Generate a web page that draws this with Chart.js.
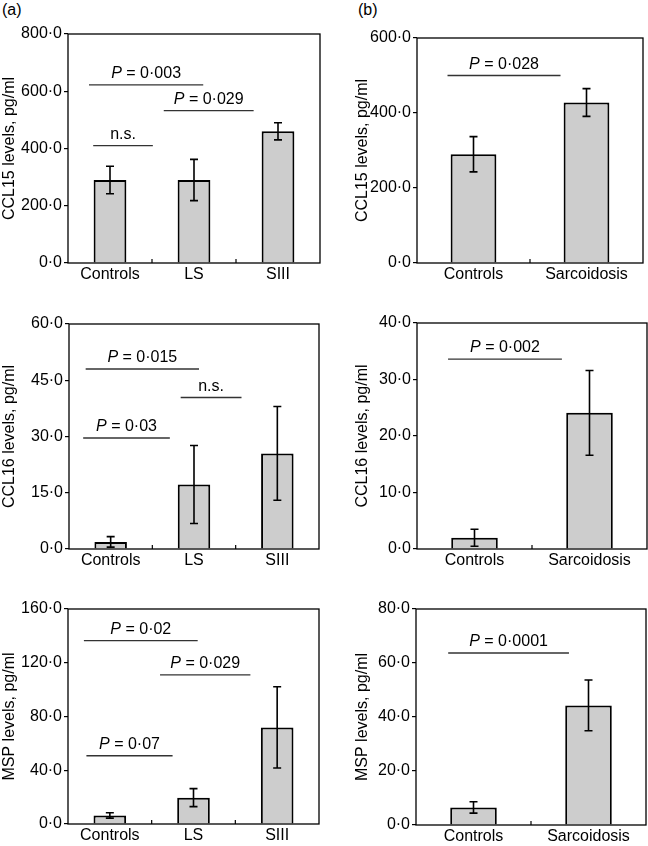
<!DOCTYPE html>
<html>
<head>
<meta charset="utf-8">
<script src="https://cdn.jsdelivr.net/npm/chart.js@4/dist/chart.umd.min.js"></script>
<style>
  body { margin: 0; background: #fff; width: 648px; height: 846px; position: relative; overflow: hidden; font-family: "Liberation Sans", Arial, sans-serif; }
  .panel { position: absolute; }
  .tag { position: absolute; font-size: 16px; color: #000; }
</style>
</head>
<body>
<div class="tag" style="left:2px;top:1px">(a)</div>
<div class="tag" style="left:358px;top:1px">(b)</div>
<div class="panel" id="wa1"><canvas id="a1"></canvas></div>
<div class="panel" id="wa2"><canvas id="a2"></canvas></div>
<div class="panel" id="wa3"><canvas id="a3"></canvas></div>
<div class="panel" id="wb1"><canvas id="b1"></canvas></div>
<div class="panel" id="wb2"><canvas id="b2"></canvas></div>
<div class="panel" id="wb3"><canvas id="b3"></canvas></div>
<script>
// groups
var groupsA = ['Controls', 'LS', 'SIII'];
var groupsB = ['Controls', 'Sarcoidosis'];

// means and error (half-length)
var ccl15A = [290, 290, 460];
var ccl15AErr = [48, 72, 30];
var ccl16A = [1.9, 17.2, 25.5];
var ccl16AErr = [1.4, 10.4, 12.5];
var mspA = [6.4, 19.6, 71.9];
var mspAErr = [2.0, 6.7, 30.2];

var ccl15B = [290, 428];
var ccl15BErr = [47, 37];
var ccl16B = [2.0, 24.1];
var ccl16BErr = [1.5, 7.5];
var mspB = [6.5, 44.3];
var mspBErr = [2.1, 9.4];

// y tick labels
var ticksCcl15A = ['0·0', '200·0', '400·0', '600·0', '800·0'];
var ticksCcl16A = ['0·0', '15·0', '30·0', '45·0', '60·0'];
var ticksMspA = ['0·0', '40·0', '80·0', '120·0', '160·0'];
var ticksCcl15B = ['0·0', '200·0', '400·0', '600·0'];
var ticksCcl16B = ['0·0', '10·0', '20·0', '30·0', '40·0'];
var ticksMspB = ['0·0', '20·0', '40·0', '60·0', '80·0'];

// significance bars: [from group, to group, y value, text]
var sigCcl15A = [[-0.25, 1.11, 622, 'P = 0·003'], [0.64, 1.71, 532, 'P = 0·029'], [-0.2, 0.51, 410, 'n.s.']];
var sigCcl16A = [[-0.3, 1.06, 48.0, 'P = 0·015'], [0.84, 1.57, 40.4, 'n.s.'], [-0.33, 0.71, 29.6, 'P = 0·03']];
var sigMspA = [[-0.31, 1.05, 136.5, 'P = 0·02'], [0.6, 1.68, 111, 'P = 0·029'], [-0.28, 0.75, 50.8, 'P = 0·07']];
var sigCcl15B = [[-0.23, 0.77, 500, 'P = 0·028']];
var sigCcl16B = [[-0.23, 0.76, 33.6, 'P = 0·002']];
var sigMspB = [[-0.22, 0.83, 63.7, 'P = 0·0001']];

var FONT = '"Liberation Sans", Arial, sans-serif';
Chart.defaults.font.family = FONT;
Chart.defaults.font.size = 16;
Chart.defaults.color = '#000';

var extras = {
    id: 'extras',
    afterDatasetsDraw: function(chart, args, opts) {
        var ctx = chart.ctx;
        var x = chart.scales.x, y = chart.scales.y;
        var a = chart.chartArea;
        var vals = chart.data.datasets[0].data;
        ctx.save();
        // error bars
        ctx.strokeStyle = '#000';
        ctx.lineWidth = 1.6;
        for (var i = 0; i < vals.length; i++) {
            var cx = x.getPixelForValue(i);
            var hi = y.getPixelForValue(vals[i] + opts.err[i]);
            var lo = y.getPixelForValue(vals[i] - opts.err[i]);
            ctx.beginPath();
            ctx.moveTo(cx, hi); ctx.lineTo(cx, lo);
            ctx.moveTo(cx - 4, hi); ctx.lineTo(cx + 4, hi);
            ctx.moveTo(cx - 4, lo); ctx.lineTo(cx + 4, lo);
            ctx.stroke();
        }
        // significance lines
        ctx.strokeStyle = '#333';
        ctx.lineWidth = 1.3;
        ctx.fillStyle = '#000';
        ctx.textBaseline = 'alphabetic';
        opts.sig.forEach(function(s) {
            var x0 = x.getPixelForValue(s[0]), x1 = x.getPixelForValue(s[1]);
            var yy = y.getPixelForValue(s[2]);
            ctx.beginPath();
            ctx.moveTo(x0, yy); ctx.lineTo(x1, yy);
            ctx.stroke();
            var mid = (x0 + x1) / 2;
            var txt = s[3];
            if (txt.charAt(0) === 'P') {
                ctx.font = 'italic 16px ' + FONT;
                var wp = ctx.measureText('P').width;
                ctx.font = '16px ' + FONT;
                var rest = txt.slice(1);
                var wr = ctx.measureText(rest).width;
                var sx = mid - (wp + wr) / 2;
                ctx.textAlign = 'left';
                ctx.font = 'italic 16px ' + FONT;
                ctx.fillText('P', sx, yy - 7);
                ctx.font = '16px ' + FONT;
                ctx.fillText(rest, sx + wp, yy - 7);
            } else {
                ctx.font = '16px ' + FONT;
                ctx.textAlign = 'center';
                ctx.fillText(txt, mid, yy - 7);
            }
        });
        // small inner ticks between groups
        ctx.strokeStyle = '#000';
        ctx.lineWidth = 1.2;
        for (var j = 0; j < vals.length - 1; j++) {
            var bx = x.getPixelForValue(j + 0.5);
            ctx.beginPath();
            ctx.moveTo(bx, a.bottom); ctx.lineTo(bx, a.bottom - 4);
            ctx.stroke();
        }
        // frame
        ctx.lineWidth = 1.3;
        ctx.strokeRect(a.left, a.top, a.right - a.left, a.bottom - a.top);
        ctx.restore();
    }
};

function makePanel(id, box, yw, groups, values, err, tickLabels, ymax, title, sig, barPct) {
    var wrap = document.getElementById('w' + id);
    var left = box[0] - yw, top = box[1] - 12;
    wrap.style.left = left + 'px';
    wrap.style.top = top + 'px';
    wrap.style.width = (box[2] + 3 - left) + 'px';
    wrap.style.height = (box[3] + 24 - top) + 'px';
    var step = ymax / (tickLabels.length - 1);
    new Chart(document.getElementById(id), {
        type: 'bar',
        data: {
            labels: groups,
            datasets: [{
                data: values,
                backgroundColor: '#cdcdcd',
                borderColor: '#000',
                borderWidth: 2,
                borderSkipped: 'start',
                barPercentage: barPct,
                categoryPercentage: 1
            }]
        },
        options: {
            responsive: true,
            maintainAspectRatio: false,
            animation: false,
            layout: { padding: { top: 12, right: 3, left: 0, bottom: 0 } },
            plugins: {
                legend: { display: false },
                tooltip: { enabled: false },
                extras: { err: err, sig: sig }
            },
            scales: {
                x: {
                    grid: { display: false, drawTicks: false },
                    border: { display: false },
                    ticks: { padding: 2, font: { size: 16 }, maxRotation: 0 },
                    afterFit: function(s) { s.height = 24; }
                },
                y: {
                    min: 0,
                    max: ymax,
                    ticks: {
                        stepSize: step,
                        padding: 2,
                        font: { size: 16 },
                        callback: function(v, i) { return tickLabels[i]; }
                    },
                    grid: { drawOnChartArea: false, drawTicks: true, tickLength: 4, color: '#000', lineWidth: 1.2 },
                    border: { display: false },
                    title: { display: true, text: title, font: { size: 16 }, padding: 0 },
                    afterFit: function(s) { s.width = yw; }
                }
            }
        },
        plugins: [extras]
    });
}

makePanel('a1', [68, 34, 320, 263], 68, groupsA, ccl15A, ccl15AErr, ticksCcl15A, 800, 'CCL15 levels, pg/ml', sigCcl15A, 0.39);
makePanel('a2', [69, 324, 319, 549], 69, groupsA, ccl16A, ccl16AErr, ticksCcl16A, 60, 'CCL16 levels, pg/ml', sigCcl16A, 0.39);
makePanel('a3', [68, 609, 319, 824], 68, groupsA, mspA, mspAErr, ticksMspA, 160, 'MSP levels, pg/ml', sigMspA, 0.39);
makePanel('b1', [417, 38, 643, 263], 64, groupsB, ccl15B, ccl15BErr, ticksCcl15B, 600, 'CCL15 levels, pg/ml', sigCcl15B, 0.405);
makePanel('b2', [417, 323, 647, 549], 64, groupsB, ccl16B, ccl16BErr, ticksCcl16B, 40, 'CCL16 levels, pg/ml', sigCcl16B, 0.405);
makePanel('b3', [416, 609, 646, 825], 63, groupsB, mspB, mspBErr, ticksMspB, 80, 'MSP levels, pg/ml', sigMspB, 0.405);
</script>
</body>
</html>
